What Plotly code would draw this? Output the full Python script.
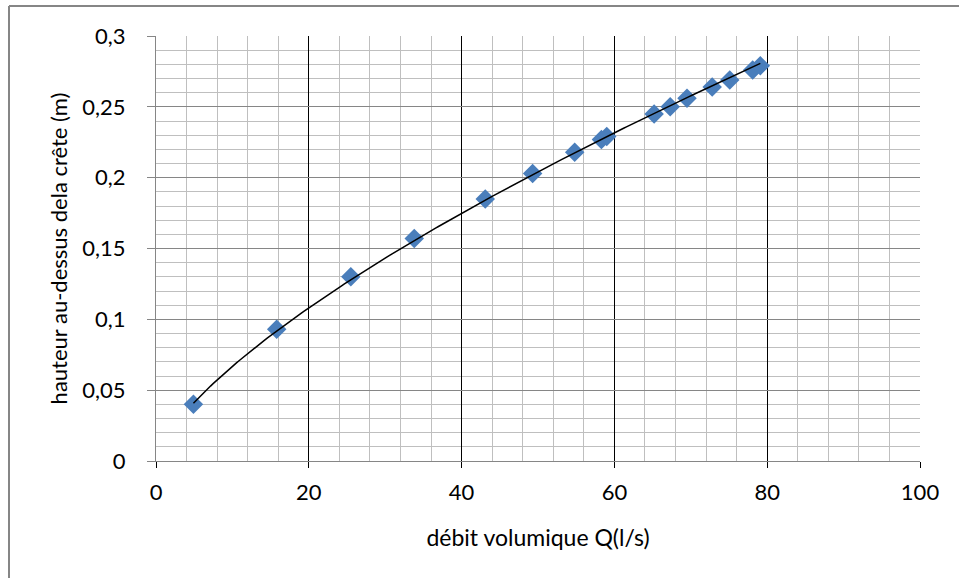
import numpy as np
import plotly.graph_objects as go

# data
debit_q = [4.9, 15.8, 25.5, 33.8, 43.1, 49.3, 54.8, 58.3, 59.0, 65.2, 67.3, 69.5, 72.8, 75.1, 78.1, 79.1]
hauteur = [0.040, 0.093, 0.130, 0.157, 0.185, 0.203, 0.218, 0.227, 0.229, 0.245, 0.250, 0.256, 0.264, 0.269, 0.276, 0.279]

x_tick_vals = [0, 20, 40, 60, 80, 100]
x_tick_text = ["0", "20", "40", "60", "80", "100"]
y_tick_vals = [0, 0.05, 0.1, 0.15, 0.2, 0.25, 0.3]
y_tick_text = ["0", "0,05", "0,1", "0,15", "0,2", "0,25", "0,3"]

# power trendline (Excel style: linear fit in log-log space)
lx = np.log(np.array(debit_q))
ly = np.log(np.array(hauteur))
b, ln_a = np.polyfit(lx, ly, 1)
tx = np.linspace(min(debit_q), max(debit_q), 200)
ty = np.exp(ln_a) * tx ** b

FONT = "Lato"
FS = 22

fig = go.Figure()
fig.add_trace(go.Scatter(
    x=debit_q, y=hauteur, mode="markers",
    marker=dict(symbol="diamond", size=15, color="#4A7EBB", line=dict(width=0)),
    showlegend=False, hoverinfo="x+y",
))
fig.add_trace(go.Scatter(
    x=tx, y=ty, mode="lines", line=dict(color="black", width=1.5),
    showlegend=False, hoverinfo="skip",
))

fig.update_layout(
    width=959, height=578,
    margin=dict(l=156, r=39, t=36, b=117, pad=0),
    paper_bgcolor="white", plot_bgcolor="white",
    font=dict(family=FONT, size=FS, color="black"),
    xaxis=dict(
        range=[0, 100], tickvals=x_tick_vals, ticktext=x_tick_text,
        showgrid=True, gridcolor="black", gridwidth=1.3,
        minor=dict(dtick=4, showgrid=True, gridcolor="#BFBFBF", gridwidth=1, ticks=""),
        showline=True, linecolor="#868686", linewidth=1,
        ticks="outside", ticklen=6, tickcolor="black", tickwidth=1,
        ticklabelstandoff=6,
        zeroline=False,
        title=dict(text="débit volumique Q(l/s)", standoff=25, font=dict(size=23)),
        tickfont=dict(size=FS),
    ),
    yaxis=dict(
        range=[0, 0.3], tickvals=y_tick_vals, ticktext=y_tick_text,
        showgrid=True, gridcolor="#868686", gridwidth=1,
        minor=dict(dtick=0.01, showgrid=True, gridcolor="#BFBFBF", gridwidth=1, ticks=""),
        showline=True, linecolor="#868686", linewidth=1,
        ticks="outside", ticklen=8, tickcolor="#868686", tickwidth=1,
        ticklabelstandoff=17,
        zeroline=False,
        title=dict(text="hauteur au-dessus dela crête (m)", standoff=8, font=dict(size=FS)),
        tickfont=dict(size=FS),
    ),
    shapes=[
        dict(type="line", xref="paper", yref="paper", x0=-0.1924, x1=1.06, y0=1.0706, y1=1.0706,
             line=dict(color="#868686", width=2)),
        dict(type="line", xref="paper", yref="paper", x0=-0.1924, x1=-0.1924, y0=1.0706, y1=-0.3,
             line=dict(color="#868686", width=2)),
    ],
)

fig.write_html("out.html", config={"displayModeBar": False},
               post_script="document.body.style.margin='0';")
